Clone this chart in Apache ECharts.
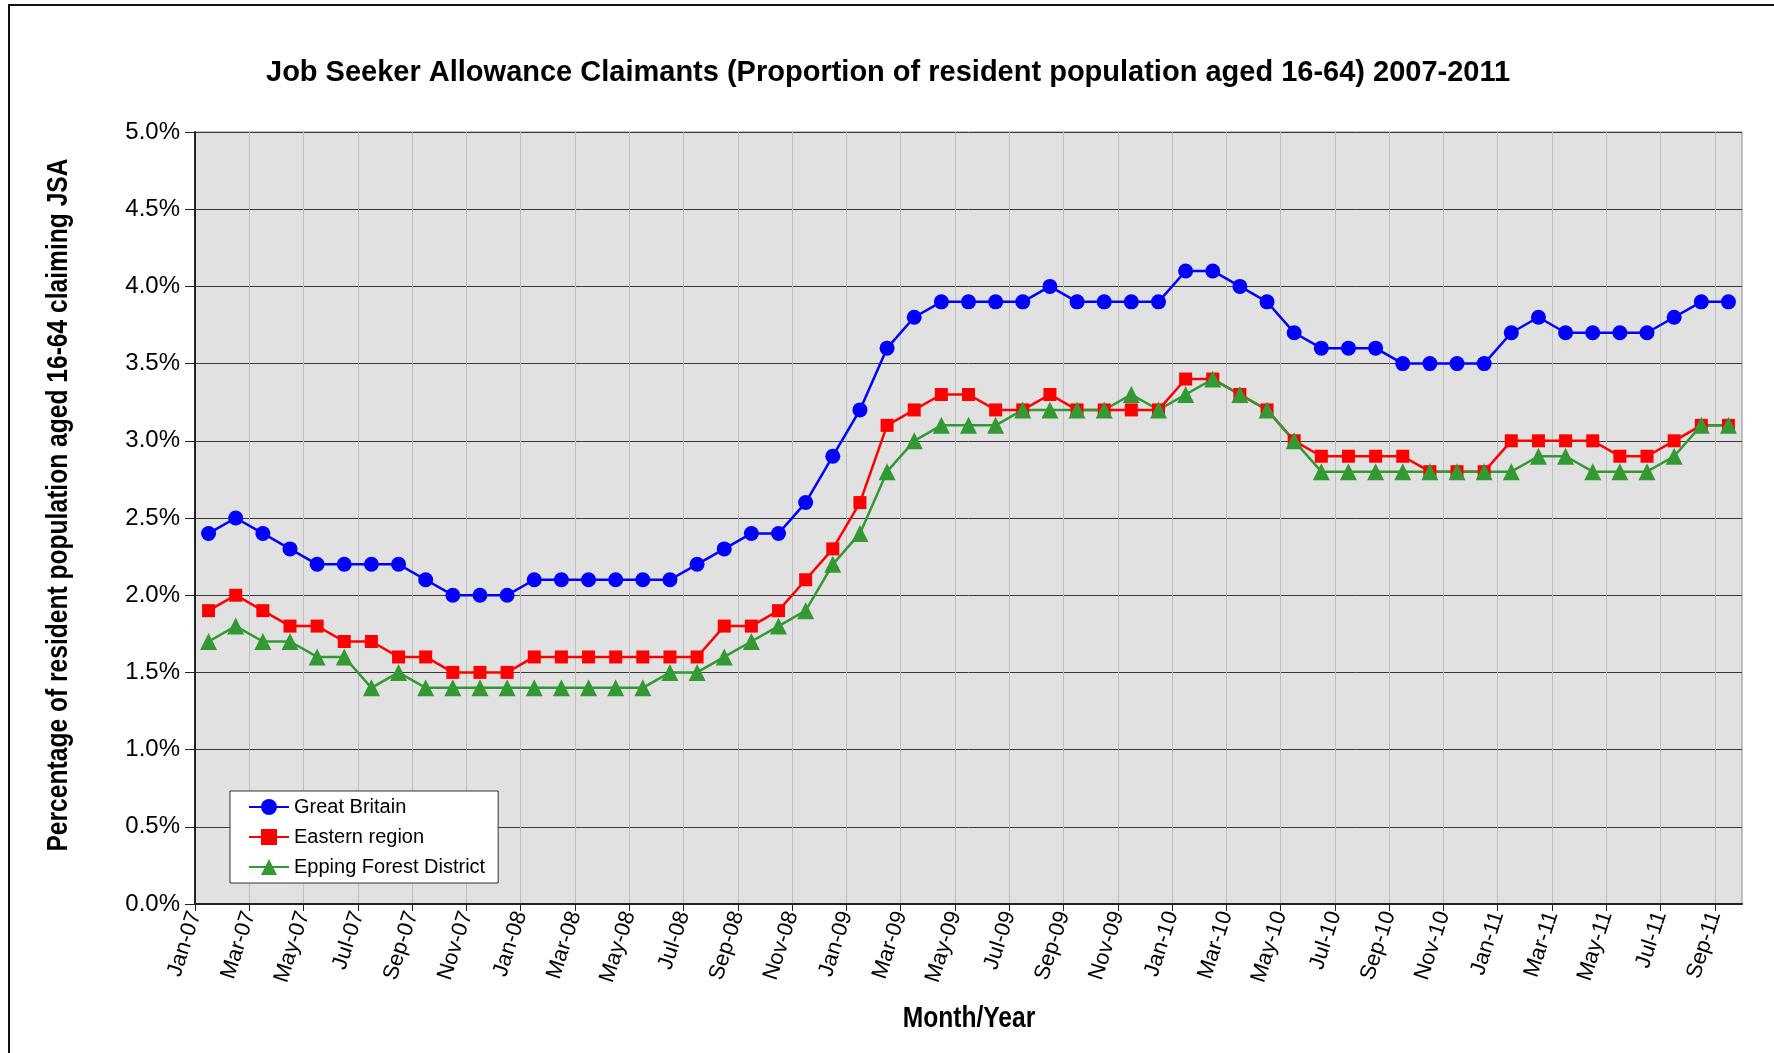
<!DOCTYPE html>
<html>
<head>
<meta charset="utf-8">
<title>Job Seeker Allowance Claimants 2007-2011</title>
<script src="https://cdn.jsdelivr.net/npm/echarts@6/dist/echarts.min.js"></script>
<style>
    html, body { margin: 0; padding: 0; background: #fff; }
    #chart { width: 1774px; height: 1053px; }
</style>
</head>
<body>
<div id="chart"></div>
<script>
// 月份标签（每月一个点，Jan-07 到 Sep-11）
const months = [
    'Jan-07', 'Feb-07', 'Mar-07', 'Apr-07', 'May-07', 'Jun-07', 'Jul-07', 'Aug-07', 'Sep-07', 'Oct-07', 'Nov-07', 'Dec-07',
    'Jan-08', 'Feb-08', 'Mar-08', 'Apr-08', 'May-08', 'Jun-08', 'Jul-08', 'Aug-08', 'Sep-08', 'Oct-08', 'Nov-08', 'Dec-08',
    'Jan-09', 'Feb-09', 'Mar-09', 'Apr-09', 'May-09', 'Jun-09', 'Jul-09', 'Aug-09', 'Sep-09', 'Oct-09', 'Nov-09', 'Dec-09',
    'Jan-10', 'Feb-10', 'Mar-10', 'Apr-10', 'May-10', 'Jun-10', 'Jul-10', 'Aug-10', 'Sep-10', 'Oct-10', 'Nov-10', 'Dec-10',
    'Jan-11', 'Feb-11', 'Mar-11', 'Apr-11', 'May-11', 'Jun-11', 'Jul-11', 'Aug-11', 'Sep-11'
];

// 各系列数值（%）
const greatBritain = [
    2.4, 2.5, 2.4, 2.3, 2.2, 2.2, 2.2, 2.2, 2.1, 2.0, 2.0, 2.0,
    2.1, 2.1, 2.1, 2.1, 2.1, 2.1, 2.2, 2.3, 2.4, 2.4, 2.6, 2.9,
    3.2, 3.6, 3.8, 3.9, 3.9, 3.9, 3.9, 4.0, 3.9, 3.9, 3.9, 3.9,
    4.1, 4.1, 4.0, 3.9, 3.7, 3.6, 3.6, 3.6, 3.5, 3.5, 3.5, 3.5,
    3.7, 3.8, 3.7, 3.7, 3.7, 3.7, 3.8, 3.9, 3.9
];
const easternRegion = [
    1.9, 2.0, 1.9, 1.8, 1.8, 1.7, 1.7, 1.6, 1.6, 1.5, 1.5, 1.5,
    1.6, 1.6, 1.6, 1.6, 1.6, 1.6, 1.6, 1.8, 1.8, 1.9, 2.1, 2.3,
    2.6, 3.1, 3.2, 3.3, 3.3, 3.2, 3.2, 3.3, 3.2, 3.2, 3.2, 3.2,
    3.4, 3.4, 3.3, 3.2, 3.0, 2.9, 2.9, 2.9, 2.9, 2.8, 2.8, 2.8,
    3.0, 3.0, 3.0, 3.0, 2.9, 2.9, 3.0, 3.1, 3.1
];
const eppingForest = [
    1.7, 1.8, 1.7, 1.7, 1.6, 1.6, 1.4, 1.5, 1.4, 1.4, 1.4, 1.4,
    1.4, 1.4, 1.4, 1.4, 1.4, 1.5, 1.5, 1.6, 1.7, 1.8, 1.9, 2.2,
    2.4, 2.8, 3.0, 3.1, 3.1, 3.1, 3.2, 3.2, 3.2, 3.2, 3.3, 3.2,
    3.3, 3.4, 3.3, 3.2, 3.0, 2.8, 2.8, 2.8, 2.8, 2.8, 2.8, 2.8,
    2.8, 2.9, 2.9, 2.8, 2.8, 2.8, 2.9, 3.1, 3.1
];

const FONT = "'Liberation Sans', Arial, sans-serif";

// 点位于每个月的中间（Excel 日期轴 "between tick marks"）
function toPoints(values) {
    return values.map((v, i) => [i + 0.5, v]);
}

// 刻度只放在每两个月的起点
const tickValues = months.map((m, i) => i).filter(i => i % 2 === 0);

const chart = echarts.init(document.getElementById('chart'));

chart.setOption({
    animation: false,
    backgroundColor: '#fff',
    textStyle: { fontFamily: FONT },
    title: {
        text: 'Job Seeker Allowance Claimants (Proportion of resident population aged 16-64) 2007-2011',
        left: 266,
        top: 58,
        padding: 0,
        textStyle: { fontFamily: FONT, fontSize: 29, fontWeight: 'bold', color: '#000' }
    },
    grid: {
        left: 195, right: 32, top: 132, bottom: 149,
        show: true,
        backgroundColor: '#e1e1e1',
        borderColor: '#8c8c8c',
        borderWidth: 1
    },
    legend: {
        orient: 'vertical',
        left: 230,
        top: 791,
        padding: [6, 13, 6, 18],
        itemGap: 10,
        itemWidth: 40,
        itemHeight: 20,
        backgroundColor: '#fff',
        borderColor: '#333',
        borderWidth: 1,
        textStyle: { fontFamily: FONT, fontSize: 20, color: '#000' },
        data: ['Great Britain', 'Eastern region', 'Epping Forest District']
    },
    xAxis: {
        type: 'value',
        min: 0,
        max: months.length,
        interval: 2,
        axisLine: { show: true, lineStyle: { color: '#222', width: 2 } },
        axisTick: { show: true, inside: false, length: 7, customValues: tickValues, lineStyle: { color: '#222' } },
        axisLabel: {
            rotate: 72,
            margin: 8,
            fontSize: 22,
            color: '#000',
            formatter: v => (v % 2 === 0 && months[v]) ? months[v] : ''
        },
        splitLine: { show: true, lineStyle: { color: '#bfbfbf', width: 1 } }
    },
    yAxis: {
        type: 'value',
        min: 0,
        max: 5,
        interval: 0.5,
        axisLine: { show: true, lineStyle: { color: '#222', width: 2 } },
        axisTick: { show: true, inside: false, length: 10, lineStyle: { color: '#222' } },
        axisLabel: {
            margin: 15,
            fontSize: 24,
            color: '#000',
            formatter: v => v.toFixed(1) + '%'
        },
        splitLine: { show: true, lineStyle: { color: '#3a3a3a', width: 1 } }
    },
    graphic: [
        // 外框（图表区边框）
        {
            type: 'rect',
            z: -10,
            shape: { x: 9, y: 5, width: 1800, height: 1100 },
            style: { fill: 'none', stroke: '#111', lineWidth: 2 }
        },
        // Y 轴标题（窄体效果用 scaleX 模拟）
        {
            type: 'text',
            x: 59,
            y: 505,
            rotation: Math.PI / 2,
            scaleX: 0.82,
            style: {
                text: 'Percentage of resident population aged 16-64 claiming JSA',
                font: "bold 30px 'Liberation Sans', Arial, sans-serif",
                fill: '#000',
                textAlign: 'center',
                textVerticalAlign: 'middle'
            }
        },
        // X 轴标题
        {
            type: 'text',
            x: 969,
            y: 1019,
            scaleX: 0.82,
            style: {
                text: 'Month/Year',
                font: "bold 30px 'Liberation Sans', Arial, sans-serif",
                fill: '#000',
                textAlign: 'center',
                textVerticalAlign: 'middle'
            }
        }
    ],
    series: [
        {
            name: 'Great Britain',
            type: 'line',
            data: toPoints(greatBritain),
            symbol: 'circle',
            symbolSize: 15,
            lineStyle: { color: '#0000ff', width: 2.5 },
            itemStyle: { color: '#0000ff' }
        },
        {
            name: 'Eastern region',
            type: 'line',
            data: toPoints(easternRegion),
            symbol: 'rect',
            symbolSize: 13,
            lineStyle: { color: '#ff0000', width: 2.5 },
            itemStyle: { color: '#ff0000' }
        },
        {
            name: 'Epping Forest District',
            type: 'line',
            data: toPoints(eppingForest),
            symbol: 'triangle',
            symbolSize: 17,
            lineStyle: { color: '#339933', width: 2.5 },
            itemStyle: { color: '#339933' }
        }
    ]
});
</script>
</body>
</html>
